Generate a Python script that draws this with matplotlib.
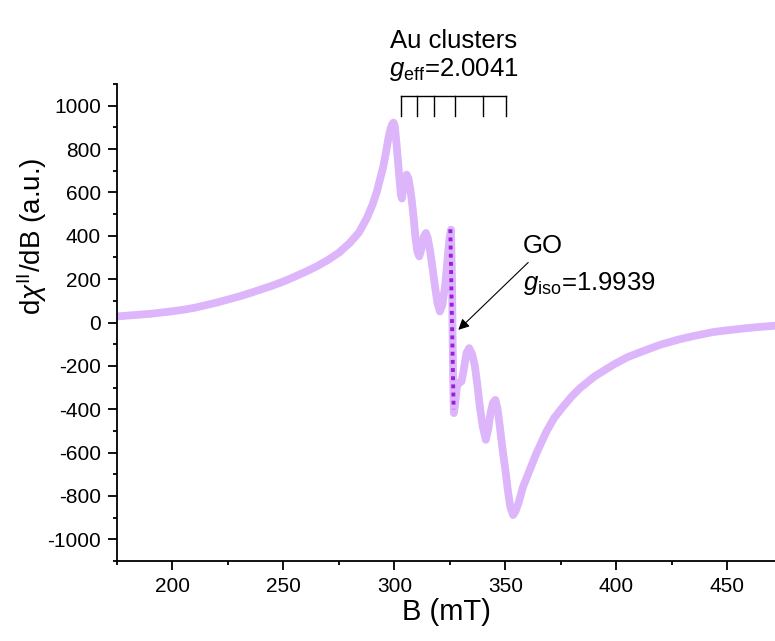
import matplotlib
matplotlib.use("Agg")
import matplotlib.pyplot as plt
from matplotlib.ticker import MultipleLocator

plt.rcParams['font.family'] = ['Liberation Sans', 'DejaVu Sans']
plt.rcParams['mathtext.fontset'] = 'custom'
plt.rcParams['mathtext.rm'] = 'Liberation Sans'
plt.rcParams['mathtext.it'] = 'Liberation Sans:italic'
plt.rcParams['mathtext.bf'] = 'Liberation Sans:bold'
plt.rcParams['axes.unicode_minus'] = False

# EPR derivative spectrum
field_mT = [175, 180, 185, 190, 195, 200, 205, 210, 215, 220, 225, 230, 235,
            240, 245, 250, 255, 260, 265, 270, 275, 280, 284, 287.6, 290, 292,
            293.5, 295, 296.3, 297.4, 298.3, 299, 299.6, 300.2, 300.8, 301.5,
            302.3, 302.9, 303.4, 304, 304.7, 305.5, 306.3, 307, 307.8, 308.7,
            309.5, 310.3, 311.2, 312.2, 313.2, 314.2, 315, 316, 317.2, 318.3,
            319.4, 320.5, 321.6, 322.8, 323.6, 324.3, 325, 325.5, 326, 326.2,
            326.5, 326.8, 327.3, 328.2, 329.2, 330.2, 331.3, 332.5, 333.7, 335,
            336.3, 337.4, 338.5, 339.8, 341.2, 342.3, 343.3, 344.4, 345.5,
            346.5, 347.5, 348.8, 350.2, 351.2, 352.2, 353.5, 354.6, 356, 358,
            361, 364, 368.5, 372, 376, 380, 383.6, 390, 398.6, 405, 413.6, 420,
            428.6, 435, 443.7, 450, 458.7, 465, 471.5]
signal = [28, 32, 36, 40, 46, 52, 59, 68, 80, 92, 106, 120, 136,
          153, 170, 189, 211, 234, 259, 288, 322, 368, 415, 482, 540, 600,
          660, 720, 790, 855, 895, 915, 922, 905, 840, 760,
          660, 590, 572, 620, 668, 682, 665, 625, 566, 480,
          390, 330, 305, 340, 395, 413, 390, 336, 250, 166,
          90, 51, 80, 166, 250, 336, 400, 428, 182, -49,
          -280, -418, -380, -295, -278, -272, -215, -140, -118, -145,
          -203, -290, -388, -480, -541, -490, -418, -370, -357,
          -400, -480, -590, -695, -780, -850, -888, -870, -830, -757,
          -680, -603, -503, -440, -388, -340, -303, -250, -195, -160, -126, -102,
          -77, -62, -44, -36, -26, -20, -15]

# GO sharp line
go_field = [325.2, 325.5, 325.8, 326.1, 326.4, 326.7]
go_signal = [430, 260, 90, -80, -250, -400]

# Au hyperfine stick positions
au_lines = [302.8, 310, 318, 327.3, 339.7, 350.5]

fig = plt.figure(figsize=(7.75, 6.41), dpi=100)
ax = fig.add_axes([117/775, 1-561/641, (775-117)/775, (561-84)/641])

ax.plot(field_mT, signal, color='#DDB5FA', lw=5.6, solid_joinstyle='round',
        solid_capstyle='round', zorder=2)
ax.plot(go_field, go_signal, color='#9A1FDB', lw=2.8, linestyle=(0, (1, 1.1)),
        zorder=3)

ax.set_xlim(175, 471.5)
ax.set_ylim(-1100, 1100)
ax.xaxis.set_major_locator(MultipleLocator(50))
ax.xaxis.set_minor_locator(MultipleLocator(25))
ax.yaxis.set_major_locator(MultipleLocator(200))
ax.yaxis.set_minor_locator(MultipleLocator(100))
for s in ['top', 'right']:
    ax.spines[s].set_visible(False)
for s in ['left', 'bottom']:
    ax.spines[s].set_linewidth(1.3)
ax.tick_params(which='major', direction='out', length=6.5, width=1.3,
               labelsize=15, pad=5)
ax.tick_params(which='minor', direction='out', length=3, width=1.3)

ax.set_xlabel('B (mT)', fontsize=21)
ax.xaxis.set_label_coords(0.5, -0.078)
ax.set_ylabel(r'd$\chi^{\mathregular{II}}$/dB (a.u.)', fontsize=20)
ax.yaxis.set_label_coords(-0.104, 0.68)

# Au bracket
top_y, bot_y = 1046, 951
ax.plot([au_lines[0], au_lines[-1]], [top_y, top_y], color='black', lw=1.0,
        clip_on=False, zorder=4)
for xv in au_lines:
    ax.plot([xv, xv], [top_y, bot_y], color='black', lw=1.0, clip_on=False,
            zorder=4)
ax.text(326.6, 1267, 'Au clusters', fontsize=18.5, ha='center', va='baseline')
ax.text(326.6, 1135, r'$g_{\mathregular{eff}}$=2.0041', fontsize=18.5,
        ha='center', va='baseline')

# GO annotation
ax.text(357.8, 320, 'GO', fontsize=18.5, ha='left', va='baseline')
ax.text(357.8, 150, r'$g_{\mathregular{iso}}$=1.9939', fontsize=18.5, ha='left',
        va='baseline')
ax.annotate('', xy=(328.8, -34), xytext=(360.3, 277),
            arrowprops=dict(arrowstyle='-|>', color='black', lw=0.8,
                            mutation_scale=16, shrinkA=0, shrinkB=0))

fig.savefig('out.png', dpi=100)
